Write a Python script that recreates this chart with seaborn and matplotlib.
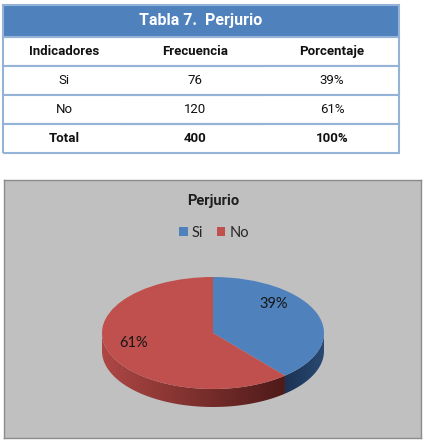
import numpy as np
import matplotlib
matplotlib.use('Agg')
import matplotlib.pyplot as plt
import seaborn as sns
from matplotlib.patches import Rectangle, PathPatch
from matplotlib.path import Path
from matplotlib.colors import LinearSegmentedColormap

sns.set_theme(style='white')
plt.rcParams['font.family'] = ['Lato', 'DejaVu Sans']
NARROW = ['Roboto', 'DejaVu Sans']

# ---------------- data ----------------
table_title = "Tabla 7.  Perjurio"
col_labels = ["Indicadores", "Frecuencia", "Porcentaje"]
indicadores = ["Si", "No", "Total"]
frecuencia = [76, 120, 400]
porcentaje = ["39%", "61%", "100%"]
chart_title = "Perjurio"
pie_labels = ["Si", "No"]
pie_values = [76, 120]

# ---------------- style ----------------
top_colors = ["#4F81BD", "#C0504D"]
side_colors = [("#1B3253", "#2A4A74"), ("#AE4744", "#4E1A19")]
line_blue = "#95B3D7"

W, H = 425, 445
fig = plt.figure(figsize=(W / 100, H / 100), dpi=100)
fig.patch.set_facecolor('white')


def px_axes(x0, y0, x1, y1):
    return fig.add_axes([x0 / W, 1 - y1 / H, (x1 - x0) / W, (y1 - y0) / H])


# ---------------- table ----------------
tax = px_axes(3, 5, 399, 153)
tax.set_axis_off()
title_frac = 32 / 148
tax.add_patch(Rectangle((0, 1 - title_frac), 1, title_frac, transform=tax.transAxes,
                        facecolor='#4F81BD', edgecolor=line_blue, lw=1.5, clip_on=False))
tax.text(0.5, 1 - title_frac / 2, table_title, transform=tax.transAxes, ha='center',
         va='center', color='white', fontsize=11.5, fontweight='bold', family=NARROW)

cell_text = [[ind, str(f), p] for ind, f, p in zip(indicadores, frecuencia, porcentaje)]
tbl = tax.table(cellText=cell_text, colLabels=col_labels, cellLoc='center',
                colWidths=[122 / 396, 140 / 396, 134 / 396],
                bbox=[0, 0, 1, 1 - title_frac])
tbl.auto_set_font_size(False)
nrows = len(cell_text)
for (r, c), cell in tbl.get_celld().items():
    cell.set_edgecolor(line_blue)
    cell.set_linewidth(1.5)
    cell.set_facecolor('white')
    cell.visible_edges = 'BT' + ('L' if c == 0 else '') + ('R' if c == 2 else '')
    txt = cell.get_text()
    txt.set_fontsize(9.5)
    txt.set_family(NARROW)
    txt.set_color('#111111')
    if r == 0 or r == nrows:
        txt.set_fontweight('bold')

# ---------------- chart background ----------------
bax = px_axes(4, 180, 421, 438)
bax.set_facecolor('#C0C0C0')
bax.set_xticks([])
bax.set_yticks([])
for s in bax.spines.values():
    s.set_color('#8C8C8C')
    s.set_linewidth(1.0)
fig.text(213 / W, 1 - 201 / H, chart_title, ha='center', va='center', fontsize=10.5,
         fontweight='bold', color='#1F1F1F', family=NARROW)

# ---------------- 3D-looking pie ----------------
pax = px_axes(102, 277, 324, 407)
pax.set_facecolor('none')
ry_px = 56.0
depth = 18.0 / ry_px

fracs = np.array(pie_values, dtype=float) / np.sum(pie_values)
angles = 90 - 360 * np.concatenate([[0], np.cumsum(fracs)])
for i in range(len(pie_values)):
    a0, a1 = angles[i], angles[i + 1]
    lo, hi = max(a1, -180), min(a0, 0)
    if lo >= hi:
        continue
    t = np.radians(np.linspace(lo, hi, 200))
    xs = np.concatenate([np.cos(t), np.cos(t[::-1])])
    ys = np.concatenate([np.sin(t), np.sin(t[::-1]) - depth])
    verts = np.column_stack([xs, ys])
    path = Path(np.vstack([verts, verts[:1]]),
                [Path.MOVETO] + [Path.LINETO] * (len(verts) - 1) + [Path.CLOSEPOLY])
    patch = PathPatch(path, facecolor='none', edgecolor='none')
    pax.add_patch(patch)
    cmap = LinearSegmentedColormap.from_list(f'side{i}', list(side_colors[i]))
    grad = np.linspace(0, 1, 256).reshape(1, -1)
    im = pax.imshow(grad, cmap=cmap, aspect='auto', interpolation='bilinear',
                    extent=[xs.min(), xs.max(), ys.min(), ys.max()], zorder=1)
    im.set_clip_path(patch)

wedges, texts, autotexts = pax.pie(
    pie_values, colors=top_colors, startangle=90, counterclock=False,
    autopct='%1.0f%%', pctdistance=0.76,
    wedgeprops=dict(linewidth=0),
    textprops=dict(color='#161616', fontsize=10.5))
for w in wedges:
    w.set_zorder(2)
label_shift = [(-0.17, 0.25), (0.0, 0.08)]
for at, (dx, dy) in zip(autotexts, label_shift):
    x, y = at.get_position()
    at.set_position((x + dx, y + dy))
    at.set_zorder(3)
pax.set_aspect('auto')
pax.set_xlim(-1, 1)
pax.set_ylim(-1 - depth, 1)
pax.set_axis_off()

pax.legend(wedges, pie_labels, loc='center', bbox_to_anchor=(214 / W, 1 - 233 / H),
           bbox_transform=fig.transFigure, ncol=2, frameon=False, fontsize=10.5,
           handlelength=0.6, handleheight=0.6, columnspacing=0.9, handletextpad=0.3)

fig.savefig('out.png', dpi=100)
